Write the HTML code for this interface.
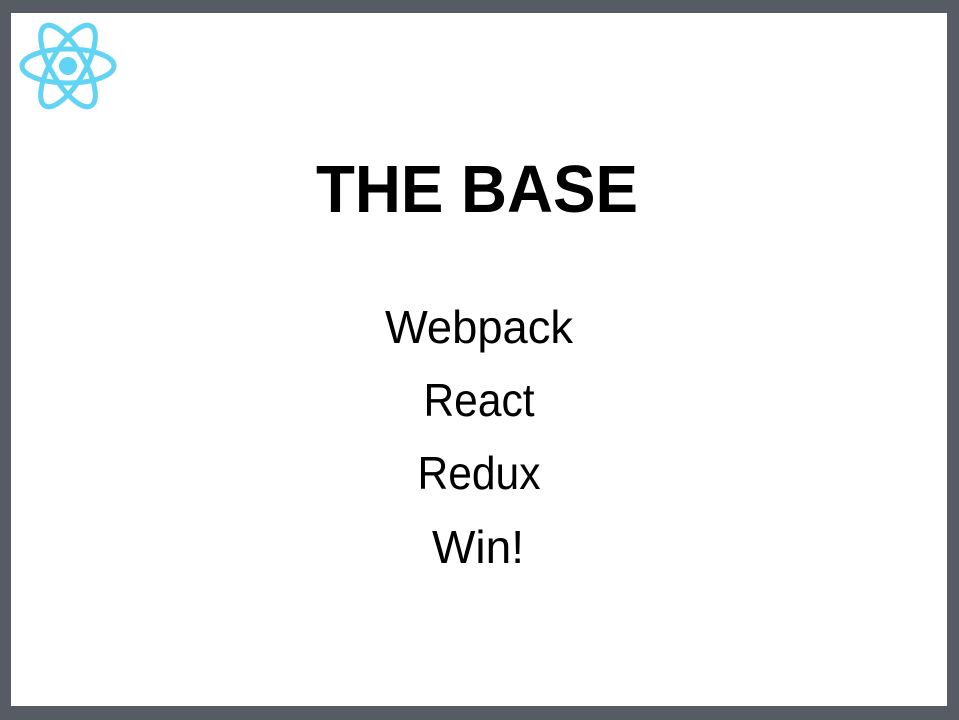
<!DOCTYPE html>
<html><head><meta charset="utf-8"><style>
html,body{margin:0;padding:0;background:#575b63;width:959px;height:720px;overflow:hidden}
</style></head><body>
<svg width="959" height="720" viewBox="0 0 959 720" xmlns="http://www.w3.org/2000/svg" style="display:block">
<rect x="0" y="0" width="959" height="720" fill="#575b63"/>
<rect x="11" y="13" width="936" height="693" fill="#ffffff"/>
<g transform="translate(68,66)" fill="none" stroke="#61d4f4" stroke-width="5">
<ellipse rx="46" ry="17"/>
<ellipse rx="46" ry="17" transform="rotate(60)"/>
<ellipse rx="46" ry="17" transform="rotate(120)"/>
<circle r="9" fill="#61d4f4" stroke="none"/>
</g>
<g font-family="'Liberation Sans', sans-serif" text-anchor="middle" fill="#000">
<text x="477" y="212" font-size="67" font-weight="bold" textLength="322" lengthAdjust="spacingAndGlyphs">THE BASE</text>
<text x="479" y="343" font-size="46" textLength="188" lengthAdjust="spacingAndGlyphs">Webpack</text>
<text x="479" y="416" font-size="46" textLength="111" lengthAdjust="spacingAndGlyphs">React</text>
<text x="479" y="489" font-size="46" textLength="123" lengthAdjust="spacingAndGlyphs">Redux</text>
<text x="478" y="563" font-size="46">Win!</text>
</g>
</svg>
</body></html>
